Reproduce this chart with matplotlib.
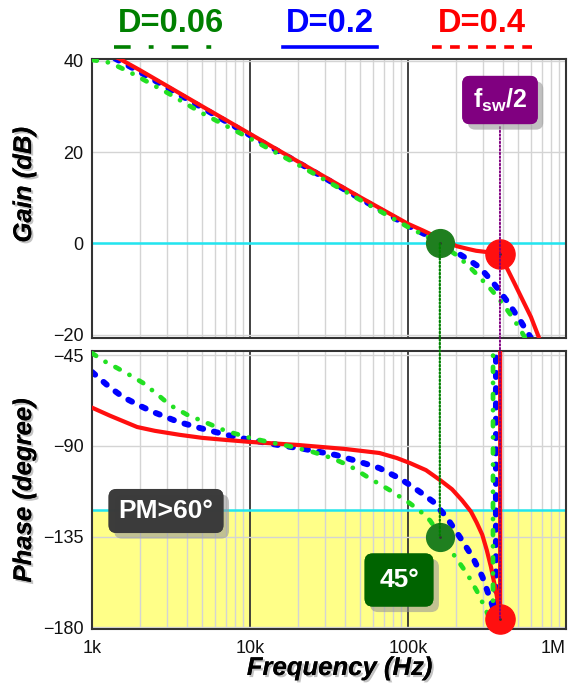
import matplotlib.pyplot as plt
import matplotlib.patheffects as pe
from matplotlib.lines import Line2D
from matplotlib.patches import ConnectionPatch

plt.rcParams['font.family'] = ['Liberation Sans', 'DejaVu Sans']
plt.rcParams['mathtext.fontset'] = 'custom'
plt.rcParams['mathtext.rm'] = 'Liberation Sans:bold'
plt.rcParams['lines.scale_dashes'] = False

# ---- data ----
labels = ["D=0.06", "D=0.2", "D=0.4"]

# gain (dB)
f_gain_g = [1e3, 1.3e3, 1.74e3, 3e3, 5e3, 1e4, 2e4, 5e4, 1e5, 1.3e5, 1.59e5, 2e5, 2.4e5, 2.86e5,
            3.4e5, 4e5, 4.5e5, 5e5, 5.7e5]
gain_g = [40.2, 39.6, 37.5, 33.0, 28.5, 23.0, 17.3, 9.5, 3.6, 1.6, 0.0, -2.4, -4.8, -7.5,
          -10.3, -13.3, -15.8, -18.2, -21.5]
f_gain_b = [1.4e3, 2e3, 5e3, 1e4, 2e4, 5e4, 1e5, 1.25e5, 1.5e5, 1.93e5, 2.4e5, 2.86e5, 3.5e5,
            4.25e5, 5.2e5, 6.2e5]
gain_b = [40.5, 37.6, 29.7, 23.7, 17.8, 9.8, 3.9, 2.2, 0.8, -1.5, -3.5, -5.3, -8.8,
          -12.7, -17.2, -21.5]
f_gain_r = [1.43e3, 2e3, 5e3, 1e4, 2e4, 5e4, 1e5, 1.25e5, 1.5e5, 1.75e5, 2.04e5, 2.4e5, 2.7e5,
            3.2e5, 3.82e5, 4.2e5, 4.7e5, 5.3e5, 6e5, 6.9e5]
gain_r = [40.8, 38.0, 30.0, 24.0, 18.0, 10.1, 4.3, 2.8, 1.5, 0.4, -0.6, -1.2, -1.6,
          -1.9, -2.2, -5.2, -8.6, -12.3, -16.1, -21.5]

# phase (degree)
f_ph_g = [1e3, 1.2e3, 1.44e3, 1.75e3, 2.1e3, 2.6e3, 3.11e3, 4e3, 5.34e3, 7e3, 1e4, 1.4e4, 1.87e4,
          2.5e4, 3.3e4, 4.3e4, 5.7e4, 7.7e4, 1.03e5, 1.2e5, 1.38e5, 1.59e5, 1.93e5, 2.37e5,
          2.73e5, 3.06e5, 3.3e5, 3.45e5, 3.46e5]
ph_g = [-44, -48, -51.3, -55, -58.7, -64.5, -69.7, -74.5, -78.6, -82.5, -86, -88.5, -90.5,
        -93, -96, -100, -106, -112, -118.5, -122.5, -127, -134, -143.5, -153.5,
        -162, -170, -176, -180, 180]
f_ph_b = [1e3, 1.3e3, 1.57e3, 2e3, 2.43e3, 3.5e3, 4.82e3, 7.1e3, 1e4, 1.5e4, 2.2e4, 3.5e4, 5e4,
          6.6e4, 8.8e4, 1.06e5, 1.25e5, 1.44e5, 1.74e5, 2.12e5, 2.56e5, 2.96e5, 3.28e5, 3.45e5,
          3.52e5, 3.58e5, 3.6e5, 3.61e5]
ph_b = [-53.3, -61, -65.7, -70, -73.1, -78, -81.1, -84.5, -87, -89.5, -91.5, -94.5, -98,
        -101, -106, -110, -114, -117.6, -125, -135, -145, -155, -165, -170,
        -173, -177, -180, 180]
f_ph_r = [1e3, 1.3e3, 1.93e3, 2.5e3, 3.6e3, 5e3, 7e3, 1e4, 2e4, 4e4, 6.6e4, 8.5e4, 1.03e5, 1.3e5,
          1.6e5, 1.9e5, 2.2e5, 2.5e5, 2.72e5, 2.95e5, 3.15e5, 3.35e5, 3.45e5, 3.58e5, 3.66e5,
          3.75e5, 3.8e5, 3.83e5, 3.835e5]
ph_r = [-71, -75, -80.6, -82.5, -84.5, -86, -87, -88, -89.5, -91.5, -93.5, -96, -98.5, -102,
        -107, -111.5, -117, -122.5, -128, -134, -141.6, -150, -155, -161, -165,
        -170, -175, -180, 180]

f_cross = 1.59e5      # crossover of D=0.06
pm_phase = -135
f_half = 3.82e5       # fsw/2
gain_half = -2.2
phase_half = -176
pm_limit = -122

fig = plt.figure(figsize=(5.71, 6.86), dpi=100)
W, H = 571, 686
ax1 = fig.add_axes([92 / W, 1 - 338 / H, 474 / W, 279 / H])
ax2 = fig.add_axes([92 / W, 1 - 629 / H, 474 / W, 278 / H])

green_c, blue_c, red_c = '#22e022', '#0000ff', '#ff0f0f'
shadow = [pe.withSimplePatchShadow(offset=(1.5, -1.5), shadow_rgbFace='#888888', alpha=0.5), pe.Normal()]

for ax in (ax1, ax2):
    ax.set_xscale('log')
    ax.set_xlim(1e3, 1e6)
    ax.set_axisbelow(True)
    ax.grid(which='minor', axis='x', color='#d4d4d4', lw=1.0)
    ax.grid(which='major', axis='x', color='#333333', lw=1.3)
    ax.grid(which='major', axis='y', color='#d4d4d4', lw=1.0)
    ax.tick_params(which='both', length=0, labelsize=13, pad=6, colors='#111111')
    for s in ax.spines.values():
        s.set_color('#333333')
        s.set_linewidth(1.5)

# gain
ax1.axhline(0, color='#22e5f0', lw=1.8, zorder=1.5)
ax1.plot(f_gain_b, gain_b, color=blue_c, lw=4.3, dashes=(3, 8), dash_capstyle='round', zorder=2)
ax1.plot(f_gain_r, gain_r, color=red_c, lw=3.0, zorder=3)
ax1.plot(f_gain_g, gain_g, color=green_c, lw=3.4, dashes=(3.5, 8, 0.1, 8), dash_capstyle='round', zorder=4)
ax1.set_ylim(-20.7, 40.4)
ax1.set_yticks([-20, 0, 20, 40])
ax1.set_xticks([1e3, 1e4, 1e5, 1e6])
ax1.set_xticklabels([])

ax1.plot([f_cross], [0], 'o', ms=20, color='#1f7f1f', zorder=6, clip_on=False)
ax1.plot([f_half], [gain_half], 'o', ms=21, color=red_c, zorder=6, clip_on=False)
ax1.plot([f_cross, f_half], [0, gain_half], '.', ms=2, color='#333333', zorder=7)

# phase
ax2.axhspan(-190, pm_limit, color='#ffff88', zorder=0.2)
ax2.axhline(pm_limit, color='#22e5f0', lw=1.8, zorder=1.5)
ax2.plot(f_ph_b, ph_b, color=blue_c, lw=4.3, dashes=(3, 8), dash_capstyle='round', zorder=2)
ax2.plot(f_ph_r, ph_r, color=red_c, lw=3.0, zorder=3)
ax2.plot(f_ph_g, ph_g, color=green_c, lw=3.4, dashes=(3.5, 8, 0.1, 8), dash_capstyle='round', zorder=4)
ax2.set_ylim(-180.8, -42.9)
ax2.set_yticks([-180, -135, -90, -45])
ax2.set_xticks([1e3, 1e4, 1e5, 1e6])
ax2.set_xticklabels(['1k', '10k', '100k', '1M'])
ax2.tick_params(axis='x', pad=8)
ax2.get_xticklabels()[-1].set_horizontalalignment('right')

ax2.plot([f_cross], [pm_phase], 'o', ms=20, color='#1f7f1f', zorder=6, clip_on=False)
ax2.plot([f_half], [phase_half], 'o', ms=21, color=red_c, zorder=6, clip_on=False)
ax2.plot([f_cross, f_half], [pm_phase, phase_half], '.', ms=2, color='#333333', zorder=7)

# guide lines between the panels
fig.add_artist(ConnectionPatch((f_cross, 0), (f_cross, pm_phase), 'data', 'data', axesA=ax1, axesB=ax2,
                               color='#008000', lw=1.6, ls=':', zorder=1))
fig.add_artist(ConnectionPatch((f_half, 25.5), (f_half, phase_half), 'data', 'data', axesA=ax1, axesB=ax2,
                               color='#800080', lw=1.4, ls=':', zorder=1))

# axis labels
ax1.set_ylabel('Gain (dB)', fontsize=18.5, fontweight='bold', fontstyle='italic', path_effects=shadow)
ax1.yaxis.set_label_coords(-0.118, 0.55)
ax2.set_ylabel('Phase (degree)', fontsize=18.5, fontweight='bold', fontstyle='italic', path_effects=shadow)
ax2.yaxis.set_label_coords(-0.118, 0.5)
fig.text(340 / W, 1 - 668 / H, 'Frequency (Hz)', fontsize=18.5, fontweight='bold', fontstyle='italic',
         ha='center', va='center', path_effects=shadow)

# annotation boxes
box_shadow = [pe.withSimplePatchShadow(offset=(4, -4), shadow_rgbFace='#999999', alpha=0.6), pe.Normal()]
t = fig.text(500 / W, 1 - 100 / H, r'f$_\mathrm{sw}$/2', fontsize=18, fontweight='bold', color='white',
             ha='center', va='center', zorder=8,
             bbox=dict(boxstyle='round,pad=0.42,rounding_size=0.3', fc='#800080', ec='none'))
t.get_bbox_patch().set_path_effects(box_shadow)
t = fig.text(166 / W, 1 - 511 / H, 'PM>60°', fontsize=19, fontweight='bold', color='white',
             ha='center', va='center', zorder=8,
             bbox=dict(boxstyle='round,pad=0.38,rounding_size=0.3', fc='#3a3a3a', ec='none', alpha=0.88))
t.get_bbox_patch().set_path_effects(box_shadow)
t = fig.text(399 / W, 1 - 580 / H, '45°', fontsize=19, fontweight='bold', color='white',
             ha='center', va='center', zorder=8,
             bbox=dict(boxstyle='round,pad=0.55,rounding_size=0.3', fc='#006400', ec='none'))
t.get_bbox_patch().set_path_effects(box_shadow)

# legend at the top
leg_colors = ['#008000', '#0000ff', '#ff0000']
leg_x = [171, 330, 482]
leg_half = [57, 47, 50]
leg_dash = [(12, 13, 3.5, 13), None, (7, 6)]
for lab, c, x, hw, d in zip(labels, leg_colors, leg_x, leg_half, leg_dash):
    fig.text(x / W, 1 - 23 / H, lab, fontsize=23.5, fontweight='bold', color=c, ha='center', va='center')
    ln = Line2D([(x - hw) / W, (x + hw) / W], [1 - 47 / H, 1 - 47 / H], transform=fig.transFigure,
                color=c, lw=2.6)
    if d is not None:
        ln.set_dashes(d)
    fig.add_artist(ln)

fig.savefig('out.png', dpi=100)
